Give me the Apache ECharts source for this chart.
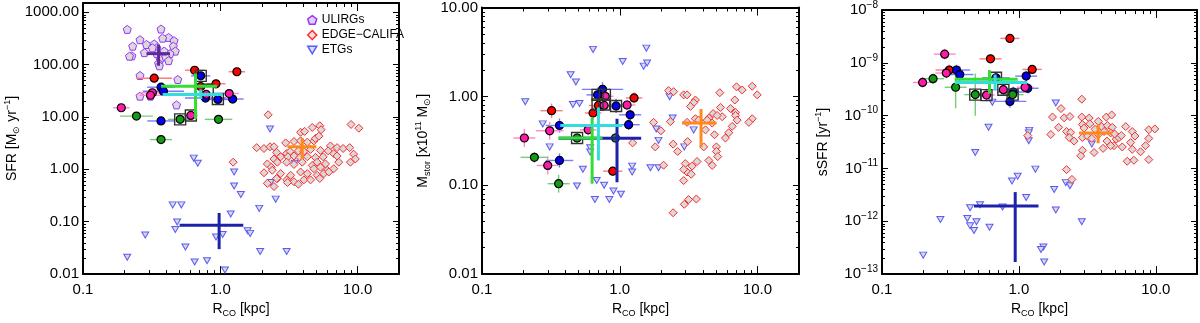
<!DOCTYPE html>
<html>
<head>
<meta charset="utf-8">
<script src="https://cdn.jsdelivr.net/npm/echarts@6/dist/echarts.min.js"></script>
<style>
html, body { margin: 0; padding: 0; background: #fff; }
#main { width: 1200px; height: 323px; }
</style>
</head>
<body>
<div id="main"></div>
<script>
// ---- axis ranges / tick values ----
var xRange = [0.1, 20];
var sfrRange = [0.01, 1500];
var mstRange = [0.01, 10];
var ssfrRange = [1e-13, 1e-8];

var xMinor = [0.2,0.3,0.4,0.5,0.6,0.7,0.8,0.9,2,3,4,5,6,7,8,9];
var sfrMinor = [0.02,0.03,0.04,0.05,0.06,0.07,0.08,0.09,0.2,0.3,0.4,0.5,0.6,0.7,0.8,0.9,
  2,3,4,5,6,7,8,9,20,30,40,50,60,70,80,90,200,300,400,500,600,700,800,900];
var mstMinor = [0.02,0.03,0.04,0.05,0.06,0.07,0.08,0.09,0.2,0.3,0.4,0.5,0.6,0.7,0.8,0.9,2,3,4,5,6,7,8,9];
var ssfrMinor = [2e-13,3e-13,4e-13,5e-13,6e-13,7e-13,8e-13,9e-13,2e-12,3e-12,4e-12,5e-12,6e-12,7e-12,8e-12,9e-12,
  2e-11,3e-11,4e-11,5e-11,6e-11,7e-11,8e-11,9e-11,2e-10,3e-10,4e-10,5e-10,6e-10,7e-10,8e-10,9e-10,
  2e-9,3e-9,4e-9,5e-9,6e-9,7e-9,8e-9,9e-9];

// ---- panel 1 : SFR ----
var ulirgSfr = [[0.21,470],[0.37,478],[0.26,299],[0.42,330],[0.38,320],[0.46,286],[0.29,242],[0.33,248],
  [0.23,225],[0.345,209],[0.455,225],[0.47,181],[0.43,162],[0.345,162],[0.28,169],[0.227,147],[0.218,145],
  [0.365,127],[0.40,141],[0.42,119],[0.355,106],[0.36,95],[0.26,62],[0.49,52],[0.26,25],[0.31,25],[0.48,17],
  [0.32,209],[0.39,181]];
var edgeSfr = [[2.23,11.0],[8.95,7.2],[10.2,6.1],[4.67,6.3],[5.30,6.8],[5.42,5.7],[3.84,5.1],[4.11,5.3],
  [2.99,3.2],[3.44,3.4],[3.84,3.5],[4.30,3.3],[4.80,3.5],[4.93,3.9],[5.22,4.3],[1.84,2.6],[2.08,2.5],
  [2.30,2.7],[2.46,2.7],[6.34,2.8],[7.08,2.6],[7.83,2.5],[8.75,2.6],[2.57,2.1],[3.04,2.0],[3.22,2.19],
  [3.70,2.25],[4.06,2.19],[4.54,2.4],[5.36,2.3],[6.10,2.25],[6.70,2.0],[2.46,1.58],[2.75,1.74],[3.11,1.74],
  [3.44,1.8],[3.80,1.69],[4.30,1.74],[4.93,1.69],[5.61,1.74],[7.08,1.8],[9.35,1.95],[9.62,1.58],[2.20,1.27],
  [2.35,1.10],[2.60,1.37],[3.04,1.37],[3.44,1.24],[3.95,1.37],[4.67,1.19],[5.07,1.37],[5.83,1.27],[7.28,1.37],
  [2.08,0.86],[2.39,0.96],[2.75,0.83],[3.25,0.77],[3.84,0.89],[4.30,0.83],[4.80,1.03],[5.36,1.10],[6.00,0.96],
  [6.70,1.03],[8.85,1.37],[2.60,0.67],[3.04,0.63],[3.44,0.58],[4.06,0.63],[4.54,0.63],[5.07,0.77],[5.67,0.83],
  [2.20,0.54],[2.46,0.47],[2.57,0.67],[3.08,0.56],[3.70,0.52],[5.30,0.67],[6.16,0.89],[1.24,1.37]];
var etgSfr = [[0.64,1.64],[0.685,1.31],[2.30,5.9],[1.26,0.89],[1.26,0.48],[1.41,0.33],[2.33,0.56],[2.53,0.27],
  [3.48,1.31],[0.45,0.21],[0.52,0.21],[1.19,0.14],[1.92,0.18],[0.485,0.099],[0.47,0.071],[0.284,0.056],
  [0.557,0.033],[0.93,0.051],[1.04,0.057],[1.58,0.067],[1.65,0.060],[0.21,0.021],[0.65,0.017],[0.80,0.018],
  [1.08,0.012],[1.95,0.027],[3.04,0.027]];
// [R, value, x error (dex), y error (dex)]
var redSfr = [[0.65,78,0.07,0],[0.33,55,0.13,0],[1.32,73,0.06,0],[0.93,43,0.07,0],[0.72,38,0.07,0]];
var blueSfr = [[0.72,61,0.07,0],[0.37,37,0.1,0],[0.385,31,0.15,0],[0.78,23,0.15,0],[0.96,21.6,0.1,0],
  [1.23,22,0.08,0],[0.37,8.4,0.1,0]];
var pinkSfr = [[0.32,29,0.09,0],[0.31,26,0.08,0],[0.19,15,0.06,0],[1.16,28,0.07,0],[0.79,27,0.05,0],[0.61,10.7,0.05,0]];
var greenSfr = [[0.245,10.4,0.12,0],[0.51,9.0,0.09,0],[0.97,9.0,0.1,0],[0.37,3.7,0.08,0]];
var boxSfr = [[0.72,61],[0.81,33],[0.96,22],[0.51,9.0],[0.61,10.7]];
// [centre R, centre value, R low, R high, value low, value high]
var ulirgMeanSfr = [0.355,162,0.29,0.43,95,242];
var edgeMeanSfr = [3.95,2.7,3.08,5.01,1.58,3.97];
var etgMeanSfr = [0.98,0.0855,0.505,1.47,0.030,0.147];
var greenMeanSfr = [0.66,38.6,0.37,0.945,9.3,68];
var cyanMeanSfr = [0.72,27,0.38,1.04,22,33.5];

// ---- panel 2 : stellar mass ----
var edgeMst = [[2.26,1.16],[2.46,1.13],[2.91,1.04],[3.08,1.04],[3.54,0.91],[3.44,0.85],[3.26,0.77],[5.32,1.10],
  [7.04,1.28],[7.74,1.18],[9.15,1.30],[9.95,1.04],[6.84,0.91],[5.38,0.75],[6.36,0.73],[6.92,0.66],[6.92,0.61],
  [7.11,0.54],[5.54,0.59],[4.76,0.64],[4.43,0.57],[5.09,0.61],[4.31,0.54],[4.69,0.50],[4.19,0.42],[4.87,0.37],
  [3.54,0.56],[3.08,0.51],[2.33,0.52],[1.76,0.51],[1.99,0.41],[1.81,0.27],[2.44,0.29],[2.63,0.24],[3.11,0.31],
  [6.55,0.46],[6.18,0.39],[5.85,0.34],[9.15,0.56],[8.65,0.51],[5.03,0.27],[5.03,0.24],[5.14,0.21],[4.43,0.19],
  [4.69,0.167],[3.64,0.185],[3.35,0.164],[2.99,0.175],[3.08,0.141],[3.30,0.133],[2.91,0.151],[2.91,0.113],
  [2.08,0.168],[3.16,0.069],[3.60,0.070],[2.94,0.061],[2.44,0.049],[4.07,0.27],[3.74,0.54],[1.24,0.30]];
var etgMst = [[0.64,3.38],[1.05,2.47],[1.56,3.49],[1.49,2.19],[1.58,2.37],[0.44,1.75],[0.48,1.45],[0.206,0.87],
  [0.457,0.81],[0.51,0.83],[0.276,0.49],[0.31,0.27],[0.61,0.264],[0.61,0.237],[0.54,0.151],[0.49,0.098],
  [0.68,0.113],[0.77,0.100],[0.90,0.086],[1.02,0.079],[0.66,0.069],[0.84,0.069],[1.23,0.164],[1.23,0.141],
  [1.67,0.157],[1.91,0.157],[2.30,0.99],[2.42,0.57],[1.84,0.43],[1.91,0.32],[2.94,0.27],[3.44,0.42]];
var redMst = [[0.32,0.69,0.08,0.08],[0.64,0.65,0.06,0.08],[0.89,0.144,0.07,0.05],[1.27,0.96,0.06,0.06],[0.70,0.79,0.07,0.07]];
var blueMst = [[0.365,0.47,0.1,0.08],[0.365,0.19,0.1,0.08],[1.16,0.48,0.08,0.06],[1.19,0.62,0.08,0.06],
  [0.94,0.78,0.08,0.08],[0.75,1.20,0.15,0.08],[0.69,1.04,0.08,0.08]];
var pinkMst = [[0.31,0.41,0.1,0.1],[0.203,0.34,0.08,0.1],[0.30,0.167,0.08,0.1],[0.59,0.42,0.06,0.06],
  [1.13,0.80,0.06,0.06],[0.785,1.0,0.06,0.06],[0.77,0.79,0.06,0.06]];
var greenMst = [[0.49,0.34,0.06,0.06],[0.24,0.206,0.1,0.06],[0.36,0.104,0.08,0.1],[0.93,0.34,0.06,0.06]];
var boxMst = [[0.69,1.04],[0.78,1.04],[0.69,0.81],[0.77,0.81],[0.94,0.78],[0.49,0.34]];
var edgeMeanMst = [3.89,0.50,2.83,5.03,0.27,0.72];
var etgMeanMst = [0.955,0.337,0.36,1.43,0.108,0.56];
var greenMeanMst = [0.63,0.34,0.36,0.75,0.104,0.58];
var cyanMeanMst = [0.70,0.47,0.37,1.04,0.19,0.75];

// ---- panel 3 : sSFR ----
var edgeSsfr = [[2.88,2.05e-10],[2.03,1.36e-10],[1.76,9.4e-11],[2.14,9.1e-11],[2.36,9.6e-11],[2.88,9.4e-11],
  [3.26,9.0e-11],[3.80,7.8e-11],[4.35,9.4e-11],[4.76,1.03e-10],[2.91,6.8e-11],[2.99,5.8e-11],[1.95,6.0e-11],
  [2.23,5.0e-11],[2.39,4.8e-11],[1.71,4.4e-11],[2.33,3.85e-11],[2.53,3.3e-11],[2.91,3.85e-11],[3.17,4.1e-11],
  [3.41,3.7e-11],[4.03,6.2e-11],[4.43,6.5e-11],[4.81,6.0e-11],[4.68,4.7e-11],[5.14,3.6e-11],[4.95,2.7e-11],
  [4.12,2.4e-11],[3.54,2.0e-11],[2.91,2.2e-11],[2.83,1.73e-11],[4.68,2.7e-11],[5.69,2.55e-11],[6.03,6.2e-11],
  [6.73,5.0e-11],[7.04,4.1e-11],[6.55,3.1e-11],[6.73,2.3e-11],[7.74,2.07e-11],[6.18,1.37e-11],[6.92,1.43e-11],
  [8.89,1.47e-11],[8.41,2.7e-11],[8.89,3.7e-11],[8.89,5.4e-11],[9.84,5.6e-11],[2.23,9.5e-12],[4.19,5.0e-11],
  [5.38,3.85e-11],[3.80,4.4e-11],[1.16,4.2e-11],[2.44,6.2e-12],[3.3,7.0e-11],[3.6,5.5e-11],[5.0,4.5e-11],
  [5.6,4.2e-11],[4.4,3.3e-11]];
var etgSsfr = [[1.86,1.74e-10],[0.60,6.05e-11],[1.19,5.26e-11],[1.18,4.72e-11],[1.18,3.34e-11],[0.48,2.01e-11],
  [1.32,9.7e-12],[0.98,7.1e-12],[0.89,5.8e-12],[1.81,3.99e-12],[2.20,5.4e-12],[2.36,4.7e-12],[1.13,2.83e-12],
  [0.52,2.06e-12],[0.44,1.80e-12],[0.76,1.87e-12],[0.267,1.08e-12],[0.42,1.13e-12],[0.49,9.8e-13],[0.44,8.2e-13],
  [0.47,6.7e-13],[0.61,7.7e-13],[1.86,1.63e-12],[2.88,9.8e-13],[1.51,3.27e-13],[1.45,2.93e-13],[1.53,1.69e-13],
  [0.20,2.29e-13],[3.41,2.9e-11],[0.64,1.8e-10]];
var redSsfr = [[0.86,2.9e-9,0.07,0.05],[0.62,1.19e-9,0.08,0.05],[0.31,7.3e-10,0.1,0.1],[1.25,7.5e-10,0.07,0.07]];
var blueSsfr = [[0.35,7.3e-10,0.1,0.1],[0.37,6.0e-10,0.1,0.15],[1.13,5.6e-10,0.08,0.1],[1.16,3.3e-10,0.08,0.1],
  [0.68,5.2e-10,0.1,0.1],[0.86,1.86e-10,0.12,0.12],[0.91,2.8e-10,0.12,0.1]];
var pinkSsfr = [[0.287,1.46e-9,0.08,0.1],[0.295,6.4e-10,0.08,0.1],[0.198,4.25e-10,0.07,0.1],[1.11,3.45e-10,0.06,0.1],
  [0.58,2.45e-10,0.06,0.12],[0.77,3.1e-10,0.08,0.1]];
var greenSsfr = [[0.236,5.0e-10,0.08,0.1],[0.345,3.45e-10,0.08,0.4],[0.48,2.5e-10,0.08,0.4],[0.90,2.5e-10,0.08,0.12]];
var boxSsfr = [[0.48,2.5e-10],[0.58,2.45e-10],[0.68,5.2e-10],[0.77,3.1e-10],[0.90,2.5e-10]];
var edgeMeanSsfr = [3.79,4.7e-11,2.75,4.81,3.0e-11,6.8e-11];
var etgMeanSsfr = [0.94,1.95e-12,0.47,1.39,1.69e-13,3.57e-12];
var greenMeanSsfr = [0.61,4.9e-10,0.34,0.98,2.6e-10,7.3e-10];
var cyanMeanSsfr = [0.67,4.25e-10,0.34,1.15,3.0e-10,6.0e-10];

// ---- styles ----
var FONT = '"Liberation Sans", Arial, Helvetica, sans-serif';
var FILL = '#d9d9d9';
var C_ULIRG = '#9933ff', C_EDGE = '#ff2a2a', C_ETG = '#5a5aff';
var PENTAGON = 'path://M0,-10L9.51,-3.09L5.88,8.09L-5.88,8.09L-9.51,-3.09Z';
var TRI_DOWN = 'path://M-10,-8L10,-8L0,9Z';

var chart = echarts.init(document.getElementById('main'));

function isDecade(v) {
  var l = Math.log(v) / Math.LN10;
  return Math.abs(l - Math.round(l)) < 1e-6;
}
var titleStyle = {
  fontFamily: FONT, fontSize: 14, color: '#000',
  rich: {
    b: { fontFamily: FONT, fontSize: 14, color: '#000', lineHeight: 18 },
    sub: { fontFamily: FONT, fontSize: 9, color: '#000', lineHeight: 9, verticalAlign: 'bottom' },
    sup: { fontFamily: FONT, fontSize: 9, color: '#000', lineHeight: 9, verticalAlign: 'top' }
  }
};
var labelRich = {
  b: { fontFamily: FONT, fontSize: 15, color: '#000', lineHeight: 20 },
  s: { fontFamily: FONT, fontSize: 10, color: '#000', lineHeight: 10, verticalAlign: 'top' }
};

function frameAxis(gi, range, pos) {
  return {
    type: 'log', logBase: 10, gridIndex: gi, min: range[0], max: range[1], position: pos,
    splitLine: { show: false },
    axisLine: { show: true, onZero: false, lineStyle: { color: '#000', width: 2 } },
    axisTick: { show: true, inside: true, length: (pos === 'bottom' || pos === 'top') ? 8 : 6,
      lineStyle: { color: '#000', width: 1 } },
    axisLabel: { show: false }
  };
}

var xAxes = [], yAxes = [];
[0, 1, 2].forEach(function (gi) {
  var xb = frameAxis(gi, xRange, 'bottom');
  xb.axisLabel = { show: true, margin: 8, color: '#000', fontSize: 15, fontFamily: FONT,
    formatter: function (v) { return isDecade(v) ? v.toFixed(1) : ''; } };
  xb.name = '{b|R}{sub|CO}{b| [kpc]}';
  xb.nameLocation = 'middle';
  xb.nameGap = 22;
  xb.nameTextStyle = titleStyle;
  xAxes.push(xb, frameAxis(gi, xRange, 'top'));
});

var yRanges = [sfrRange, mstRange, ssfrRange];
var yTitles = ['{b|SFR [M}{sub|⊙}{b| yr}{sup|−1}{b|]}',
  '{b|M}{sub|stor}{b| [x10}{sup|11}{b| M}{sub|⊙}{b|]}',
  '{b|sSFR [yr}{sup|−1}{b|]}'];
var yGaps = [62, 50, 50];
[0, 1, 2].forEach(function (gi) {
  var yl = frameAxis(gi, yRanges[gi], 'left');
  yl.axisLabel = { show: true, margin: 4, color: '#000', fontSize: 15, fontFamily: FONT, rich: labelRich,
    formatter: function (v) {
      if (!isDecade(v)) return '';
      if (gi < 2) return v.toFixed(2);
      var e = Math.round(Math.log(v) / Math.LN10);
      return '{b|10}{s|' + (e < 0 ? '−' : '') + Math.abs(e) + '}';
    } };
  yl.name = yTitles[gi];
  yl.nameLocation = 'middle';
  yl.nameGap = yGaps[gi];
  yl.nameTextStyle = titleStyle;
  yAxes.push(yl, frameAxis(gi, yRanges[gi], 'right'));
});

function scatter(name, gi, data, symbol, size, color, border, z, bw) {
  return {
    type: 'scatter', name: name, xAxisIndex: gi * 2, yAxisIndex: gi * 2, data: data,
    symbol: symbol, symbolSize: size, z: z, silent: true, animation: false,
    itemStyle: { color: color, borderColor: border, borderWidth: bw || 1, opacity: 1 }
  };
}

function errBars(gi, data, color) {
  return {
    type: 'custom', xAxisIndex: gi * 2, yAxisIndex: gi * 2, data: data, z: 4, silent: true, animation: false,
    renderItem: function (params, api) {
      var x = api.value(0), y = api.value(1), ex = api.value(2), ey = api.value(3);
      var ch = [];
      var st = { stroke: color, lineWidth: 1.4, fill: null };
      if (ex > 0) {
        var a = api.coord([x / Math.pow(10, ex), y]), b = api.coord([x * Math.pow(10, ex), y]);
        ch.push({ type: 'line', shape: { x1: a[0], y1: a[1], x2: b[0], y2: b[1] }, style: st });
      }
      if (ey > 0) {
        var c = api.coord([x, y / Math.pow(10, ey)]), d = api.coord([x, y * Math.pow(10, ey)]);
        ch.push({ type: 'line', shape: { x1: c[0], y1: c[1], x2: d[0], y2: d[1] }, style: st });
      }
      return { type: 'group', children: ch };
    }
  };
}

function cross(gi, m, color, z) {
  return {
    type: 'custom', xAxisIndex: gi * 2, yAxisIndex: gi * 2, data: [m], z: z, silent: true, animation: false,
    renderItem: function (params, api) {
      var cx = api.value(0), cy = api.value(1);
      var a = api.coord([api.value(2), cy]), b = api.coord([api.value(3), cy]);
      var c = api.coord([cx, api.value(4)]), d = api.coord([cx, api.value(5)]);
      return { type: 'group', children: [
        { type: 'line', shape: { x1: a[0], y1: a[1], x2: b[0], y2: b[1] }, style: { stroke: color, lineWidth: 3 } },
        { type: 'line', shape: { x1: c[0], y1: c[1], x2: d[0], y2: d[1] }, style: { stroke: color, lineWidth: 3 } }
      ] };
    }
  };
}

function minorTicks(gi, yMinor, yRef) {
  var data = xMinor.map(function (v) { return [v, yRef, 0]; })
    .concat(yMinor.map(function (v) { return [1, v, 1]; }));
  return {
    type: 'custom', xAxisIndex: gi * 2, yAxisIndex: gi * 2, data: data, z: 1, silent: true, animation: false,
    renderItem: function (params, api) {
      var cs = params.coordSys;
      var p = api.coord([api.value(0), api.value(1)]);
      var st = { stroke: '#000', lineWidth: 1 };
      if (api.value(2) === 0) {
        var x = Math.round(p[0]) + 0.5;
        return { type: 'group', children: [
          { type: 'line', shape: { x1: x, y1: cs.y + cs.height, x2: x, y2: cs.y + cs.height - 4 }, style: st },
          { type: 'line', shape: { x1: x, y1: cs.y, x2: x, y2: cs.y + 4 }, style: st }
        ] };
      }
      var y = Math.round(p[1]) + 0.5;
      return { type: 'group', children: [
        { type: 'line', shape: { x1: cs.x, y1: y, x2: cs.x + 3, y2: y }, style: st },
        { type: 'line', shape: { x1: cs.x + cs.width, y1: y, x2: cs.x + cs.width - 3, y2: y }, style: st }
      ] };
    }
  };
}

function samplePanel(gi, red, blue, pink, green, boxes) {
  return [
    errBars(gi, red, '#ff7a7a'), errBars(gi, blue, '#7a7aff'),
    errBars(gi, pink, '#ff88cc'), errBars(gi, green, '#77cc77'),
    scatter('red', gi, red, 'circle', 8, '#ff0000', '#000', 6, 1.2),
    scatter('blue', gi, blue, 'circle', 8, '#0000ee', '#000', 6, 1.2),
    scatter('pink', gi, pink, 'circle', 8, '#ff1aa8', '#000', 6, 1.2),
    scatter('green', gi, green, 'circle', 8, '#159a15', '#000', 6, 1.2),
    scatter('box', gi, boxes, 'rect', 11, 'rgba(0,0,0,0)', '#333', 7, 1.4)
  ];
}

var series = [];
series.push(minorTicks(0, sfrMinor, 1), minorTicks(1, mstMinor, 1), minorTicks(2, ssfrMinor, 1e-10));
// panel 1
series.push(
  scatter('ETGs', 0, etgSfr, TRI_DOWN, [7, 6], FILL, C_ETG, 2),
  scatter('EDGE−CALIFA', 0, edgeSfr, 'diamond', 8, FILL, C_EDGE, 3),
  scatter('ULIRGs', 0, ulirgSfr, PENTAGON, 8, FILL, C_ULIRG, 3)
);
series = series.concat(samplePanel(0, redSfr, blueSfr, pinkSfr, greenSfr, boxSfr));
series.push(cross(0, ulirgMeanSfr, '#5e2a96', 8), cross(0, edgeMeanSfr, '#ff8a1a', 8),
  cross(0, etgMeanSfr, '#1c22aa', 8), cross(0, greenMeanSfr, '#33dd33', 9), cross(0, cyanMeanSfr, '#33dddd', 9));
// panel 2
series.push(
  scatter('ETGs', 1, etgMst, TRI_DOWN, [7, 6], FILL, C_ETG, 2),
  scatter('EDGE−CALIFA', 1, edgeMst, 'diamond', 8, FILL, C_EDGE, 3)
);
series = series.concat(samplePanel(1, redMst, blueMst, pinkMst, greenMst, boxMst));
series.push(cross(1, edgeMeanMst, '#ff8a1a', 8), cross(1, etgMeanMst, '#1c22aa', 8),
  cross(1, greenMeanMst, '#33dd33', 9), cross(1, cyanMeanMst, '#33dddd', 9));
// panel 3
series.push(
  scatter('ETGs', 2, etgSsfr, TRI_DOWN, [7, 6], FILL, C_ETG, 2),
  scatter('EDGE−CALIFA', 2, edgeSsfr, 'diamond', 8, FILL, C_EDGE, 3)
);
series = series.concat(samplePanel(2, redSsfr, blueSsfr, pinkSsfr, greenSsfr, boxSsfr));
series.push(cross(2, edgeMeanSsfr, '#ff8a1a', 8), cross(2, etgMeanSsfr, '#1c22aa', 8),
  cross(2, greenMeanSsfr, '#33dd33', 9), cross(2, cyanMeanSsfr, '#33dddd', 9));

chart.setOption({
  animation: false,
  backgroundColor: '#fff',
  grid: [
    { left: 83, top: 3, width: 316, height: 280 },
    { left: 482, top: 3, width: 317, height: 280 },
    { left: 882, top: 3, width: 317, height: 280 }
  ],
  legend: {
    left: 302, top: 9, orient: 'vertical', itemWidth: 9, itemHeight: 9, itemGap: 3, selectedMode: false,
    textStyle: { fontFamily: FONT, fontSize: 12, color: '#000' },
    data: [
      { name: 'ULIRGs', icon: PENTAGON, itemStyle: { color: '#e0d0ff', borderColor: C_ULIRG, borderWidth: 1.5 } },
      { name: 'EDGE−CALIFA', icon: 'diamond', itemStyle: { color: '#ffdede', borderColor: C_EDGE, borderWidth: 1.5 } },
      { name: 'ETGs', icon: TRI_DOWN, itemStyle: { color: '#dedeff', borderColor: C_ETG, borderWidth: 1.5 } }
    ]
  },
  xAxis: xAxes,
  yAxis: yAxes,
  series: series
});
</script>
</body>
</html>
